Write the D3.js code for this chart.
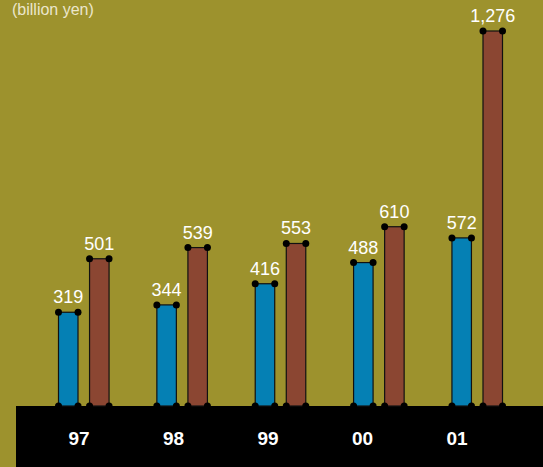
<!DOCTYPE html>
<html>
<head>
<meta charset="utf-8">
<title>Billion yen</title>
<script src="https://d3js.org/d3.v7.min.js"></script>
<style>
  body { margin: 0; background: #9d922d; }
  text { font-family: "Liberation Sans", Arial, sans-serif; }
</style>
</head>
<body>
<div id="chart"></div>
<script>
const years = ["97", "98", "99", "00", "01"];
const seriesA = [319, 344, 416, 488, 572];
const seriesB = [501, 539, 553, 610, 1276];

const width = 543, height = 467;
const baseY = 406;

const svg = d3.select("#chart").append("svg")
    .attr("width", width)
    .attr("height", height);

svg.append("rect")
    .attr("width", width).attr("height", height)
    .attr("fill", "#9d922d");

const x = d3.scaleBand()
    .domain(years)
    .range([58.5, 502.5])
    .paddingInner(0.486)
    .paddingOuter(0);

const y = d3.scaleLinear()
    .domain([0, 1276])
    .range([baseY, 31]);

// bottom band with year labels
svg.append("rect")
    .attr("x", 16).attr("y", baseY)
    .attr("width", width - 16).attr("height", height - baseY)
    .attr("fill", "#000");

const xLab = d3.scalePoint()
    .domain(years)
    .range([79, 457]);

svg.selectAll(".year")
    .data(years)
    .enter().append("text")
    .attr("class", "year")
    .attr("x", d => xLab(d))
    .attr("y", 445)
    .attr("text-anchor", "middle")
    .attr("fill", "#fff")
    .style("font-size", "19px")
    .style("font-weight", "bold")
    .text(d => d);

const series = [
  { vals: seriesA, color: "#0580b4", off: 0 },
  { vals: seriesB, color: "#8b4632", off: 1 }
];
const barW = 19.5;
const fmt = d3.format(",");

series.forEach(s => {
  const bx = (d, i) => x(years[i]) + s.off * (x.bandwidth() - barW);
  const g = svg.append("g");

  g.selectAll("rect")
    .data(s.vals)
    .enter().append("rect")
    .attr("x", bx)
    .attr("y", d => y(d))
    .attr("width", barW)
    .attr("height", d => baseY - y(d))
    .attr("fill", s.color)
    .attr("stroke", "#111")
    .attr("stroke-width", 1.2);

  // corner dots
  s.vals.forEach((d, i) => {
    const x0 = bx(d, i), x1 = x0 + barW;
    [[x0, y(d)], [x1, y(d)], [x0, baseY], [x1, baseY]].forEach(p => {
      g.append("circle")
        .attr("cx", p[0]).attr("cy", p[1])
        .attr("r", 3.5)
        .attr("fill", "#000");
    });
  });

  g.selectAll("text")
    .data(s.vals)
    .enter().append("text")
    .attr("x", (d, i) => bx(d, i) + barW / 2)
    .attr("y", d => y(d) - 9)
    .attr("text-anchor", "middle")
    .attr("fill", "#fff")
    .style("font-size", "18px")
    .text(d => fmt(d));
});

svg.append("text")
    .attr("x", 12).attr("y", 15)
    .attr("fill", "#ebe6cc")
    .style("font-size", "16px")
    .text("(billion yen)");
</script>
</body>
</html>
